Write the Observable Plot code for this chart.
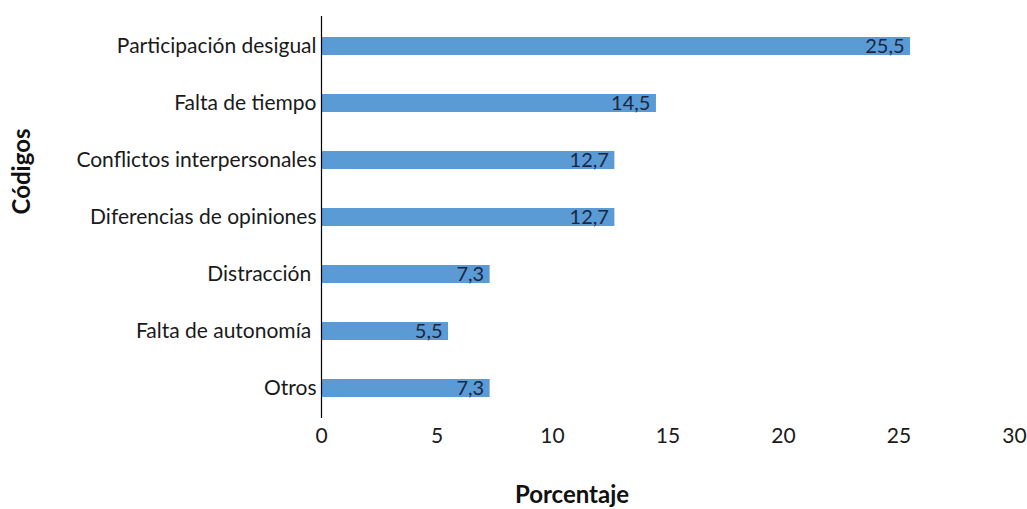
<!DOCTYPE html>
<html>
<head>
<meta charset="utf-8">
<script src="https://cdn.jsdelivr.net/npm/d3@7"></script>
<script src="https://cdn.jsdelivr.net/npm/@observablehq/plot@0.6"></script>
<style>
  html, body { margin: 0; padding: 0; background: #fff; }
  svg { font-family: Lato, sans-serif; }
</style>
</head>
<body>
<div id="chart"></div>
<script>
const categories = [
  "Participación desigual",
  "Falta de tiempo",
  "Conflictos interpersonales",
  "Diferencias de opiniones",
  "Distracción\u00a0",
  "Falta de autonomía\u00a0",
  "Otros"
];
const values = [25.5, 14.5, 12.7, 12.7, 7.3, 5.5, 7.3];
const xTicks = [0, 5, 10, 15, 20, 25, 30];
const xTitle = "Porcentaje";
const yTitle = "Códigos";

const data = categories.map((c, i) => ({category: c, value: values[i]}));
const fmt = v => String(v).replace(".", ",");

const chart = Plot.plot({
  width: 1027,
  height: 509,
  marginLeft: 321,
  marginRight: 13,
  marginTop: 16,
  marginBottom: 91,
  style: {fontFamily: "Lato, sans-serif", fontSize: "21px", color: "#000", background: "#fff"},
  x: {domain: [0, 30], ticks: xTicks, label: null},
  y: {domain: categories, paddingInner: 0.686, paddingOuter: 0.343, label: null},
  marks: [
    Plot.barX(data, {x: "value", y: "category", fill: "#5B9BD5"}),
    Plot.text(data, {x: "value", y: "category", text: d => fmt(d.value), textAnchor: "end", dx: -6, fill: "#1a2744", fontSize: 20}),
    Plot.axisX({ticks: xTicks, tickSize: 0, tickPadding: 10, tickFormat: d => String(d), label: null, fontSize: 21, fill: "#1a1a1a"}),
    Plot.axisY({tickSize: 0, tickPadding: 5, label: null, fontSize: 21, fill: "#1a1a1a"}),
    Plot.ruleX([0], {stroke: "#000", strokeWidth: 1.2}),
    Plot.text([xTitle], {frameAnchor: "bottom", textAnchor: "middle", dx: -96, dy: 84, fontWeight: "bold", fontSize: 24, fill: "#111"}),
    Plot.text([yTitle], {frameAnchor: "left", textAnchor: "middle", rotate: -90, dx: -299, dy: -46, fontWeight: "bold", fontSize: 24, fill: "#111"})
  ]
});
document.getElementById("chart").appendChild(chart);
</script>
</body>
</html>
